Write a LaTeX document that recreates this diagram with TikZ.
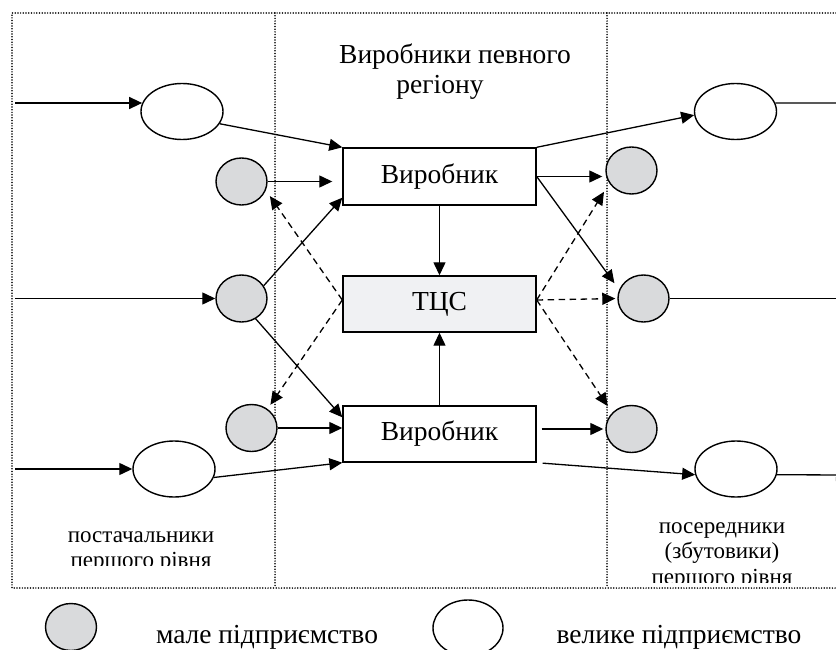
\documentclass[tikz,border=0pt]{standalone}
\usepackage{fontspec}
\setmainfont{Liberation Serif}
\usetikzlibrary{shapes.geometric, arrows.meta, positioning, calc}
\definecolor{smallgray}{RGB}{217,218,220}
\definecolor{tcsgray}{RGB}{240,241,243}
\newcommand{\bigfont}{\fontsize{27.5}{30}\selectfont}
\newcommand{\labfont}{\fontsize{23}{25.5}\selectfont}

\begin{document}
\begin{tikzpicture}[x=1pt, y=-1pt,
  big/.style={ellipse, draw, line width=1.4pt, minimum width=82pt, minimum height=56pt, inner sep=0pt},
  small/.style={ellipse, draw, line width=1.4pt, fill=smallgray, minimum width=51pt, minimum height=47pt, inner sep=0pt},
  firm/.style={rectangle, draw, line width=1.4pt, minimum width=193pt, minimum height=57pt, inner sep=0pt, font=\bigfont},
  arr/.style={-{Triangle[length=13pt,width=12pt]}, line width=1.3pt},
  dasharr/.style={arr, dash pattern=on 6.5pt off 4.5pt},
  zone/.style={line width=1.7pt, line cap=round, dash pattern=on 0pt off 2.7pt}]
\useasboundingbox (0,0) rectangle (836,650);
% Zones
\draw[zone] (836,13) -- (12,13) -- (12,588) -- (836,588);
\draw[zone] (275,13) -- (275,588);
\draw[zone] (607,13) -- (607,588);
\node[font=\bigfont, align=center] (title) at (455,72) {Виробники певного\\регіону\hspace*{30pt}};
\begin{scope}
\clip (12,13) rectangle (275,565);
\node[font=\labfont, align=center] (suppl) at (141,552) {постачальники\\першого рівня};
\end{scope}
\begin{scope}
\clip (607,13) rectangle (836,582);
\node[font=\labfont, align=center] (inter) at (722,556) {посередники\\(збутовики)\\першого рівня};
\end{scope}
% Suppliers
\node[big] (L1) at (182,111.5) {};
\node[small] (S1) at (241.5,181.5) {};
\node[small] (S2) at (241.5,298.5) {};
\node[small] (S3) at (251.5,428) {};
\node[big] (L2) at (174,469) {};
% Producers
\node[firm] (P1) at (439.5,176.5) {Виробник};
\node[firm, fill=tcsgray, minimum height=56pt] (T) at (439.5,304) {ТЦС};
\node[firm, minimum height=56pt] (P2) at (439.5,434) {Виробник};
% Intermediaries
\node[big] (R1) at (735.5,111.5) {};
\node[small] (Q1) at (631.5,170.5) {};
\node[small] (Q2) at (643.5,298.5) {};
\node[small] (Q3) at (631.5,429) {};
\node[big] (R2) at (736,469) {};
\coordinate (in1) at (15,103);
\coordinate (in2) at (15,298.5);
\coordinate (in3) at (15,469);
\coordinate (out1) at (856,103);
\coordinate (out2) at (849,298.5);
\coordinate (out3) at (849,475);
% Links
\draw[arr] (in1) -- (in1 -| L1.168);
\draw[arr] (in2) -- (S2.west);
\draw[arr] (in3) -- (L2.west);
\draw[arr] (L1.-18) -- (P1.north west);
\draw[arr, shorten >=10pt] (S1.east) -- (S1.east -| P1.west);
\draw[arr] (S2.30) -- ([yshift=8pt]P1.south west);
\draw[arr] (S2.-55) -- ([yshift=-12pt]P2.north west);
\draw[arr] (S3.east) -- (S3.east -| P2.west);
\draw[arr] (L2.-12) -- (P2.south west);
\draw[arr] (P1.south) -- (T.north);
\draw[arr] (P2.north) -- (T.south);
\draw[arr] (P1.north east) -- (R1.185);
\draw[arr, shorten >=3pt] (P1.east) -- (P1.east -| Q1.west);
\draw[arr, shorten >=8pt] (P1.east) -- (Q2.160);
\draw[arr, shorten <=5pt, shorten >=2pt] (P2.east |- Q3.west) -- (Q3.west);
\draw[arr, shorten <=6pt] (P2.south east) -- (R2.188);
\draw[arr] (R1.12) -- (out1);
\draw[arr] (Q2.east) -- (out2);
\draw[arr] (R2.-8) -- (out3);
% Information links
\draw[dasharr, shorten >=7pt] ([yshift=4pt]T.west) -- (S1.-20);
\draw[dasharr, shorten >=5pt] ([yshift=4pt]T.west) -- (S3.50);
\draw[dasharr, shorten >=10pt] ([yshift=4pt]T.east) -- (Q1.-150);
\draw[dasharr, shorten >=2pt] ([yshift=4pt]T.east) -- (Q2.west);
\draw[dasharr, shorten >=8pt] ([yshift=4pt]T.east) -- (Q3.140);
% Legend
\node[small] (legS) at (71,627) {};
\node[font=\bigfont, anchor=base] (legStxt) at (267,643.5) {мале підприємство};
\node[big, minimum width=70pt] (legB) at (468,628) {};
\node[font=\bigfont, anchor=base] (legBtxt) at (679,643.5) {велике підприємство};
\end{tikzpicture}
\end{document}
